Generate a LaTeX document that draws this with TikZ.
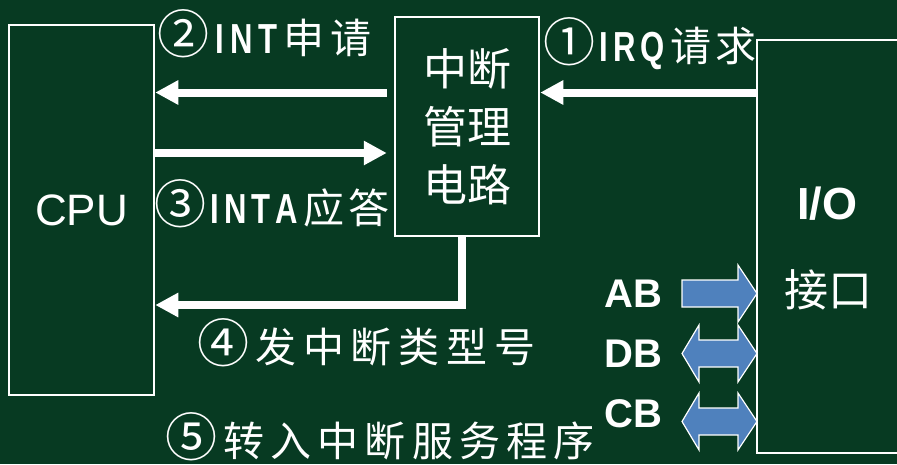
\documentclass[tikz,border=0pt]{standalone}
\usepackage{fontspec}
\setmainfont{Liberation Sans}
\newfontfamily\cjk{Noto Sans CJK SC}
\usetikzlibrary{arrows.meta}
\definecolor{board}{RGB}{7,58,34}
\definecolor{busblue}{RGB}{79,129,189}
\newcommand\spr[2]{\makebox[#1]{#2}}
\newcommand\cnum[1]{{\fontsize{52}{52}\selectfont #1}}
\newcommand\cond[1]{\scalebox{0.74}[1]{\fontspec{Liberation Sans}\bfseries\fontsize{42}{42}\selectfont #1}}
\begin{document}
\begin{tikzpicture}[x=1pt,y=-1pt,
  box/.style={draw=white,line width=2.5pt,inner sep=0pt,text=white},
  wire/.style={draw=white,line width=8pt,-{Triangle[length=23pt,width=23pt]}},
  lbl/.style={text=white,inner sep=0pt,font=\cjk\fontsize{41}{41}\selectfont},
  bus/.style={fill=busblue,draw=white,line width=1.2pt,line join=miter},
  busname/.style={text=white,inner sep=0pt,font=\bfseries\fontsize{40}{40}\selectfont}]
\fill[board] (0,0) rectangle (897,464);
\useasboundingbox (0,0) rectangle (897,464);
% boxes
\node[box,minimum width=145pt,minimum height=370pt,font=\fontsize{44}{44}\selectfont] (cpu) at (81.5,210) {CPU};
\node[box,minimum width=144pt,minimum height=219pt,align=center,
      font=\cjk\fontsize{44}{58}\selectfont] (mid) at (467,126.5) {中断\\管理\\电路};
\node[box,minimum width=153pt,minimum height=413pt] (io) at (833.5,246.5) {};
\node[text=white,inner sep=0pt,font=\bfseries\fontsize{45}{45}\selectfont] (iot) at (827,204) {I/O};
\node[text=white,inner sep=0pt,font=\cjk\fontsize{44}{44}\selectfont] (jk) at (828,290) {接口};
% connector rows
\coordinate (r1) at (0,92.5);
\coordinate (r3) at (0,153);
\coordinate (r4) at (0,305);
\coordinate (m4) at (462,0);
\draw[wire,shorten <=7pt] (mid.west |- r1) -- (cpu.east |- r1);
\draw[wire,shorten >=7pt] (cpu.east |- r3) -- (mid.west |- r3);
\draw[wire] (io.west |- r1) -- (mid.east |- r1);
\draw[wire] (m4 |- mid.south) -- (m4 |- r4) -- (cpu.east |- r4);
% labels
\node[lbl] (l2) at (264.5,34) {\spr{215pt}{\cnum{②}\hfill\cond{I}\hfill\cond{N}\hfill\cond{T}\hfill 申\hfill 请}};
\node[lbl] (l3) at (272,204) {\spr{236pt}{\cnum{③}\hfill\cond{I}\hfill\cond{N}\hfill\cond{T}\hfill\cond{A}\hfill 应\hfill 答}};
\node[lbl] (l1) at (650,44) {\spr{214pt}{\cnum{①}\hfill\cond{I}\hfill\cond{R}\hfill\cond{Q}\hfill 请\hfill 求}};
\node[lbl] (l4) at (366,343) {\spr{338pt}{\cnum{④}\hfill 发\hfill 中\hfill 断\hfill 类\hfill 型\hfill 号}};
\node[lbl] (l5) at (380,437) {\spr{430pt}{\cnum{⑤}\hfill 转\hfill 入\hfill 中\hfill 断\hfill 服\hfill 务\hfill 程\hfill 序}};
% buses
\node[busname] (ab) at (633,294) {AB};
\node[busname] (db) at (633,354) {DB};
\node[busname] (cb) at (633,414) {CB};
\draw[bus] (682,280) -- (738,280) -- (738,265) -- (757,293.5) -- (738,322) -- (738,307) -- (682,307) -- cycle;
\draw[bus] (682,353.5) -- (699,325) -- (699,340) -- (738,340) -- (738,325) -- (757,353.5) -- (738,382) -- (738,367) -- (699,367) -- (699,382) -- cycle;
\draw[bus] (682,421.5) -- (699,393) -- (699,408) -- (738,408) -- (738,393) -- (757,421.5) -- (738,450) -- (738,435) -- (699,435) -- (699,450) -- cycle;
\end{tikzpicture}
\end{document}
